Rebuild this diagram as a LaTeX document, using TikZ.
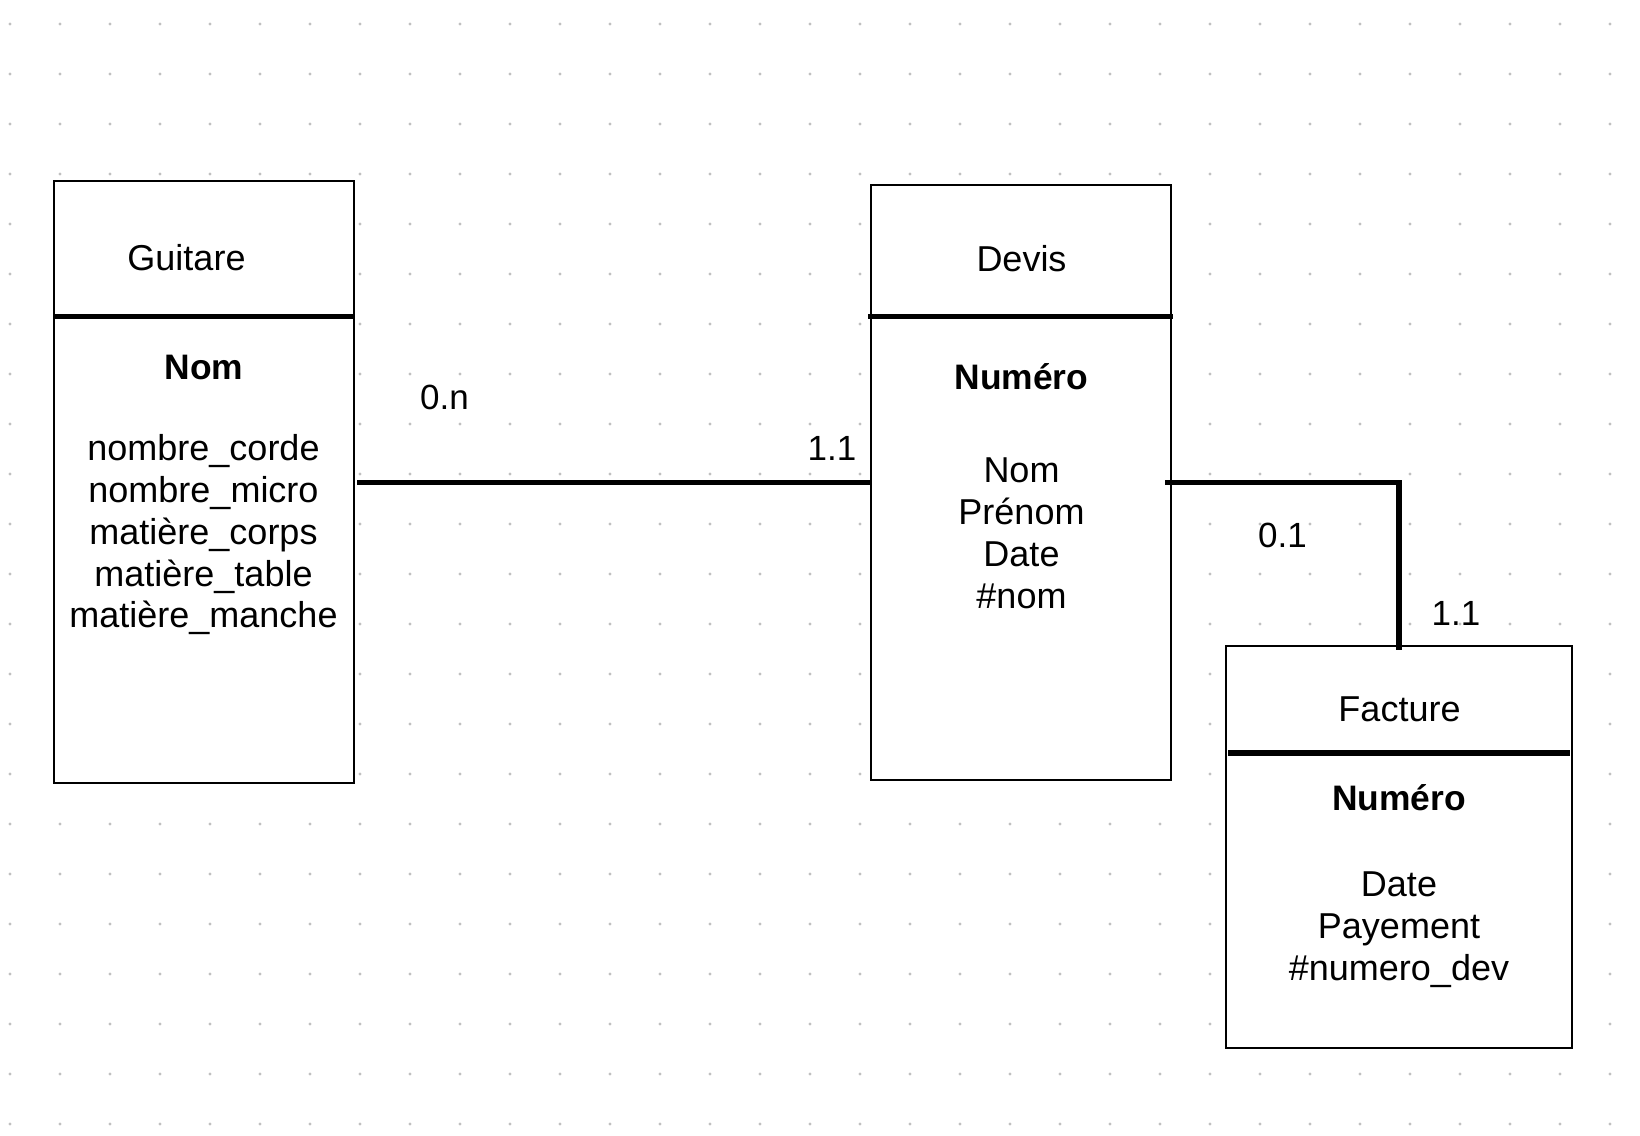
\documentclass[tikz,border=0pt]{standalone}
\usepackage{fontspec}
\setmainfont{Liberation Sans}
\definecolor{dotgray}{RGB}{192,192,192}
\begin{document}
\begin{tikzpicture}[x=0.5pt,y=-0.5pt,
  entity/.style={draw=black, fill=white, line width=1pt, inner sep=0pt, outer sep=0pt, anchor=north west},
  sepline/.style={line width=2.6pt},
  conn/.style={line width=2.8pt},
  txt/.style={font=\fontsize{18pt}{20.9pt}\selectfont, inner sep=0pt, anchor=base},
  keytxt/.style={txt, font=\fontsize{17.7pt}{20.9pt}\selectfont\bfseries},
  card/.style={txt, font=\fontsize{17.5pt}{20.9pt}\selectfont}]
\fill[white] (0,0) rectangle (1640,1136);
\useasboundingbox (0,0) rectangle (1640,1136);
% dot grid
\foreach \i in {0,...,32}{
  \foreach \j in {0,...,22}{
    \fill[dotgray] (10+50*\i,24+50*\j) circle (0.85pt);
  }
}
% entities
\node[entity, minimum width=150pt, minimum height=301pt] (guitare) at (54,181) {};
\node[entity, minimum width=150pt, minimum height=297.5pt] (devis) at (871,185) {};
\node[entity, minimum width=173pt, minimum height=201pt] (facture) at (1226,646) {};
% separators
\coordinate (sg) at (0,316.5);
\coordinate (sd) at (0,316.7);
\coordinate (sf) at (0,753);
\draw[sepline] (guitare.west |- sg) -- (guitare.east |- sg);
\draw[sepline] ([xshift=-1.5pt]devis.west |- sd) -- ([xshift=1pt]devis.east |- sd);
\draw[sepline] ([xshift=1pt]facture.west |- sf) -- ([xshift=-1pt]facture.east |- sf);
% connectors
\coordinate (cy) at (0,482.5);
\draw[conn] ([xshift=1.5pt]guitare.east |- cy) -- (devis.west |- cy);
\draw[conn] ([xshift=-3pt]devis.east |- cy) -- (facture.north |- cy) -- ([yshift=-2pt]facture.north);
% Guitare texts
\node[txt] (gt) at (186.5,270.5) {Guitare};
\node[keytxt] (gk) at (204,379.3) {Nom};
\node[txt] (ga1) at (203.5,460.7) {nombre\_corde};
\node[txt] (ga2) at (203.5,502.5) {nombre\_micro};
\node[txt] (ga3) at (203.5,544.3) {matière\_corps};
\node[txt] (ga4) at (203.5,586.1) {matière\_table};
\node[txt] (ga5) at (203.5,627.9) {matière\_manche};
% Devis texts
\node[txt] (dt) at (1021.5,271) {Devis};
\node[keytxt] (dk) at (1021.5,389.3) {Numéro};
\node[txt] (da1) at (1021.5,482.7) {Nom};
\node[txt] (da2) at (1021.5,524.3) {Prénom};
\node[txt] (da3) at (1021.5,566.5) {Date};
\node[txt] (da4) at (1021.5,608.3) {\#nom};
% Facture texts
\node[txt] (ft) at (1399.5,721.7) {Facture};
\node[keytxt] (fk) at (1399,810) {Numéro};
\node[txt] (fa1) at (1399,896.7) {Date};
\node[txt] (fa2) at (1399,938.5) {Payement};
\node[txt] (fa3) at (1399,980.3) {\#numero\_dev};
% cardinalities
\node[card] (c1) at (444.5,409) {0.n};
\node[card] (c2) at (832,460) {1.1};
\node[card] (c3) at (1282.5,547) {0.1};
\node[card] (c4) at (1456,625) {1.1};
\end{tikzpicture}
\end{document}
